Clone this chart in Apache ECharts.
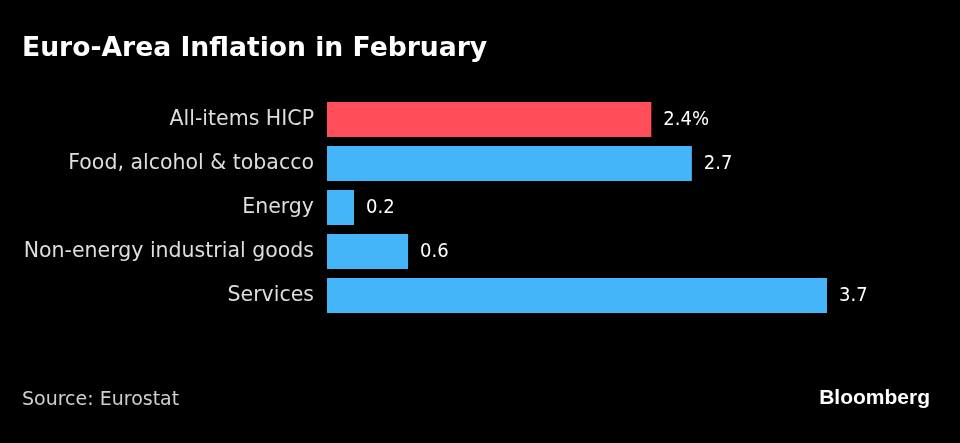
<!DOCTYPE html>
<html><head><meta charset="utf-8">
<script src="https://cdn.jsdelivr.net/npm/echarts@6/dist/echarts.min.js"></script>
<style>html,body{margin:0;padding:0;background:#000;}#c{width:960px;height:443px;}</style>
</head><body><div id="c"></div>
<script>
const categories = ["All-items HICP", "Food, alcohol & tobacco", "Energy", "Non-energy industrial goods", "Services"];
const values = [2.4, 2.7, 0.2, 0.6, 3.7];
const valueLabels = ["2.4%", "2.7", "0.2", "0.6", "3.7"];
const barColors = ["#ff4d5a", "#45b5fa", "#45b5fa", "#45b5fa", "#45b5fa"];

const chart = echarts.init(document.getElementById('c'));
chart.setOption({
  backgroundColor: '#000',
  animation: false,
  title: [
    {text: 'Euro-Area Inflation in February', left: 17, top: 31,
     textStyle: {color: '#fff', fontSize: 26.6, fontWeight: 'bold', fontFamily: 'DejaVu Sans'}},
    {text: 'Source: Eurostat', left: 17, top: 386,
     textStyle: {color: '#cfcfcf', fontSize: 19, fontWeight: 'normal', fontFamily: 'DejaVu Sans'}},
    {text: 'Bloomberg', right: 25, top: 383,
     textStyle: {color: '#fff', fontSize: 21, fontWeight: 'bold', fontFamily: 'Liberation Sans Narrow, Liberation Sans'}}
  ],
  grid: {left: 327, right: 133, top: 97.5, height: 220, containLabel: false},
  xAxis: {type: 'value', min: 0, max: 3.7, show: false},
  yAxis: {type: 'category', data: categories, inverse: true,
    axisLine: {show: false}, axisTick: {show: false},
    axisLabel: {color: '#dedede', fontSize: 20.5, margin: 13, fontFamily: 'DejaVu Sans'}},
  series: [{
    type: 'bar', barCategoryGap: '20%',
    data: values.map((v, i) => ({value: v, itemStyle: {color: barColors[i]},
      label: {formatter: valueLabels[i]}})),
    label: {show: true, position: 'right', distance: 12, color: '#fff', fontSize: 20,
      fontFamily: 'DejaVu Sans Condensed'}
  }]
});
</script></body></html>
